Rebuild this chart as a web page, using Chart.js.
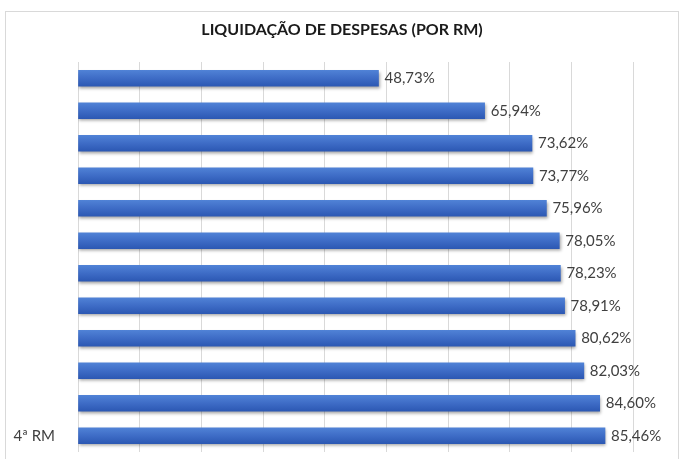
<!DOCTYPE html>
<html lang="pt-br">
<head>
<meta charset="UTF-8">
<title>Liquidação de despesas</title>
<script src="https://cdn.jsdelivr.net/npm/chart.js"></script>
<style>
  body { margin: 0; background: #fff; width: 683px; height: 459px; overflow: hidden; position: relative; }
  .moldura { position: absolute; left: 5px; top: 11px; width: 674px; height: 470px; border: 1px solid #d9d9d9; box-sizing: border-box; }
  .grafico { position: absolute; left: 6px; top: 12px; width: 672px; height: 447px; }
</style>
</head>
<body>
<div class="moldura"></div>
<div class="grafico"><canvas id="liquidacaoChart"></canvas></div>

<script>
// dados (de cima para baixo)
const titulo = 'LIQUIDAÇÃO DE DESPESAS (POR RM)';
const categorias = ['', '', '', '', '', '', '', '', '', '', '', '4ª RM'];
const percentuais = [48.73, 65.94, 73.62, 73.77, 75.96, 78.05, 78.23, 78.91, 80.62, 82.03, 84.60, 85.46];
const rotulos = ['48,73%', '65,94%', '73,62%', '73,77%', '75,96%', '78,05%', '78,23%', '78,91%', '80,62%', '82,03%', '84,60%', '85,46%'];

const ESPESSURA = 16;

// titulo centralizado na largura toda do canvas
const tituloCentro = {
  id: 'tituloCentro',
  afterDraw(chart) {
    const ctx = chart.ctx;
    ctx.save();
    ctx.font = 'bold 16px Lato';
    ctx.fillStyle = '#1a1a1a';
    ctx.textAlign = 'center';
    ctx.textBaseline = 'middle';
    ctx.fillText(titulo, chart.width / 2, 18);
    ctx.restore();
  }
};

// sombra nas barras
const sombra = {
  id: 'sombra',
  beforeDatasetsDraw(chart) {
    const ctx = chart.ctx;
    ctx.save();
    ctx.shadowColor = 'rgba(0,0,0,0.35)';
    ctx.shadowBlur = 3;
    ctx.shadowOffsetX = 1;
    ctx.shadowOffsetY = 2;
  },
  afterDatasetsDraw(chart) {
    chart.ctx.restore();
  }
};

// rótulos de valor na ponta de cada barra
const rotulosValor = {
  id: 'rotulosValor',
  afterDraw(chart) {
    const ctx = chart.ctx;
    const meta = chart.getDatasetMeta(0);
    ctx.save();
    ctx.font = '15px Lato';
    ctx.fillStyle = '#404040';
    ctx.textAlign = 'left';
    ctx.textBaseline = 'middle';
    meta.data.forEach((barra, i) => {
      ctx.fillText(rotulos[i], barra.x + 6, barra.y);
    });
    ctx.restore();
  }
};

// degradê vertical em cada barra
function corBarra(context) {
  const chart = context.chart;
  const y = chart.scales && chart.scales.y;
  if (!chart.chartArea || !y || context.dataIndex === undefined) return '#3e6cc6';
  const centro = y.getPixelForValue(context.dataIndex);
  const g = chart.ctx.createLinearGradient(0, centro - ESPESSURA / 2, 0, centro + ESPESSURA / 2);
  g.addColorStop(0, '#5082d6');
  g.addColorStop(0.5, '#3e6cc6');
  g.addColorStop(1, '#2c58b3');
  return g;
}

const ctx = document.getElementById('liquidacaoChart').getContext('2d');
new Chart(ctx, {
  type: 'bar',
  data: {
    labels: categorias,
    datasets: [{
      data: percentuais,
      backgroundColor: corBarra,
      borderWidth: 0,
      barThickness: ESPESSURA
    }]
  },
  plugins: [sombra, rotulosValor, tituloCentro],
  options: {
    indexAxis: 'y',
    responsive: true,
    maintainAspectRatio: false,
    animation: false,
    layout: { autoPadding: false, padding: { left: 0, right: 45, top: 50, bottom: 7 } },
    plugins: {
      legend: { display: false },
      tooltip: { enabled: false },
      title: { display: false }
    },
    scales: {
      x: {
        min: 0,
        max: 90,
        ticks: { display: false, stepSize: 10 },
        grid: { color: '#d9d9d9', drawTicks: false },
        border: { display: false },
        afterFit(scale) { scale.height = 0; }
      },
      y: {
        grid: { display: false, drawTicks: false },
        border: { display: false },
        ticks: {
          color: '#404040',
          font: { family: 'Lato', size: 15 },
          padding: 23,
          autoSkip: false
        },
        afterFit(scale) {
          scale.width = 72;
          scale.paddingTop = 0;
          scale.paddingBottom = 0;
        }
      }
    }
  }
});
</script>
</body>
</html>
